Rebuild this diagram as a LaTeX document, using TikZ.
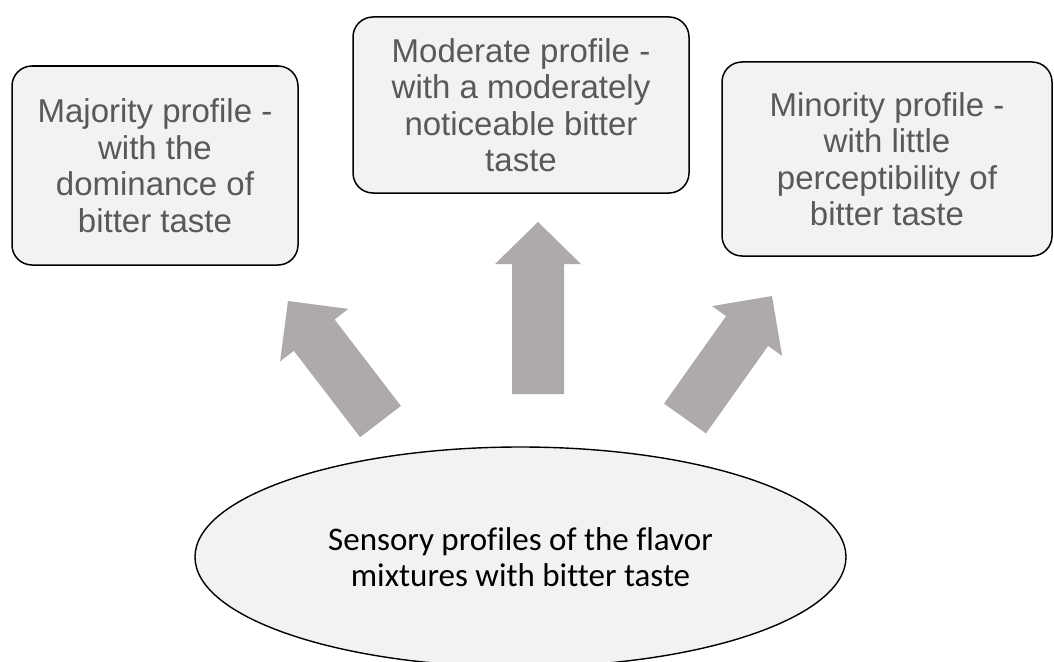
\documentclass[tikz,border=0pt]{standalone}
\usepackage{fontspec}
\setmainfont{Liberation Sans}
\newfontfamily\calibfont[Ligatures=NoCommon]{Carlito}
\usetikzlibrary{shapes.geometric}
\definecolor{boxfill}{RGB}{242,242,242}
\definecolor{boxtext}{RGB}{89,89,89}
\definecolor{arrowgray}{RGB}{174,170,170}
\tikzset{
  profilebox/.style={draw=black, line width=1.5pt, fill=boxfill, rounded corners=20pt,
    align=center, text=boxtext, inner sep=0pt,
    font=\fontsize{33}{36.5}\selectfont},
  sourceellipse/.style={ellipse, draw=black, line width=1.4pt, fill=boxfill,
    align=center, text=black, inner sep=0pt,
    font=\calibfont\fontsize{33}{36}\selectfont},
  blockarrow/.style={fill=arrowgray, draw=none}
}
\begin{document}
\begin{tikzpicture}[x=1pt, y=-1pt]
  \useasboundingbox (0,0) rectangle (1054,661);
  \clip (0,0) rectangle (1054,661);

  % profile boxes
  \node[profilebox, minimum width=286pt, minimum height=199pt] (major) at (155,165.5)
    {Majority profile -\\with the\\dominance of\\bitter taste};
  \node[profilebox, minimum width=336pt, minimum height=176pt] (moderate) at (521,105)
    {Moderate profile -\\with a moderately\\noticeable bitter\\taste};
  \node[profilebox, minimum width=330pt, minimum height=194pt] (minor) at (887,159)
    {Minority profile -\\with little\\perceptibility of\\bitter taste};

  % source ellipse (its lowest edge runs just off the page)
  \node[sourceellipse, minimum width=651pt, minimum height=220pt] (source) at (520.5,557)
    {Sensory profiles of the flavor\\mixtures with bitter taste};

  % block arrows
  \fill[blockarrow] (360.1,437.2) -- (400.9,405.9) -- (334.6,319.5) -- (348.3,308.9)
    -- (288,301) -- (280.1,361.3) -- (293.8,350.8) -- cycle;
  \fill[blockarrow] (512,394) -- (564,394) -- (564,264) -- (581,264)
    -- (538,222) -- (495,264) -- (512,264) -- cycle;
  \fill[blockarrow] (664,403.6) -- (706,433.4) -- (768.1,345.9) -- (782.1,355.9)
    -- (772,296) -- (712,306.1) -- (726.1,316.1) -- cycle;
\end{tikzpicture}
\end{document}
